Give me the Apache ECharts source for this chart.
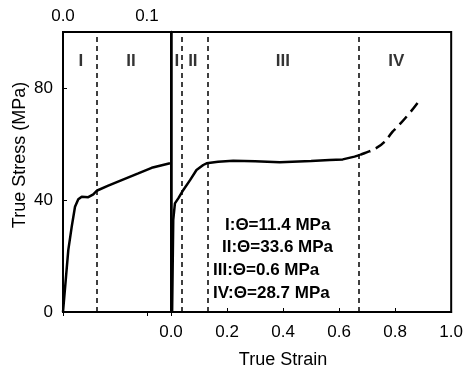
<!DOCTYPE html>
<html>
<head>
<meta charset="utf-8">
<script src="https://cdn.jsdelivr.net/npm/echarts@6/dist/echarts.min.js"></script>
<style>
  html, body { margin: 0; padding: 0; background: #fff; }
  #chart { width: 466px; height: 374px; }
</style>
</head>
<body>
<div id="chart"></div>
<script>
// left panel: strain on top axis (0 - ~0.13)
const leftCurve = [
  [0, 0], [0.0036, 12.6], [0.0063, 22.1], [0.0104, 30.5], [0.0143, 37.6],
  [0.0182, 40.3], [0.0223, 41.2], [0.0301, 41.0], [0.0361, 42.0], [0.0401, 43.3],
  [0.0539, 45.1], [0.0699, 47.1], [0.0896, 49.5], [0.1056, 51.5], [0.1274, 53.1]
];
// right panel: strain on bottom axis (0 - 1.0)
const rightCurve = [
  [0.004, 0], [0.008, 32.9], [0.014, 38.8], [0.026, 40.6], [0.044, 43.6],
  [0.068, 47.1], [0.091, 50.7], [0.115, 52.5], [0.127, 53.1], [0.168, 53.7],
  [0.222, 54.0], [0.30, 53.8], [0.388, 53.5], [0.50, 53.9], [0.566, 54.3],
  [0.613, 54.5], [0.655, 55.5], [0.675, 56.1]
];
const rightDashed = [
  [0.675, 56.1], [0.690, 56.7], [0.732, 58.5], [0.762, 60.8], [0.791, 64.4],
  [0.803, 65.6], [0.851, 71.0], [0.892, 76.3]
];
const leftBounds = [0.040];
const rightBounds = [0.039, 0.125, 0.673];
const leftRegions = [[0.0214, 89.6, 'I'], [0.081, 89.6, 'II']];
const rightRegions = [[0.021, 89.6, 'I'], [0.078, 89.6, 'II'], [0.399, 89.6, 'III'], [0.804, 89.6, 'IV']];
const slopeNotes = ['I:\u0398=11.4 MPa', 'II:\u0398=33.6 MPa', 'III:\u0398=0.6 MPa', 'IV:\u0398=28.7 MPa'];
const slopeNoteX = [225, 222, 213, 213];

const font = "'Liberation Sans', Arial, sans-serif";
const black = '#000';

const chart = echarts.init(document.getElementById('chart'), null, { renderer: 'canvas' });

const boundLine = (vals) => ({
  silent: true,
  symbol: 'none',
  label: { show: false },
  lineStyle: { color: black, type: [5, 4], width: 1.5 },
  data: vals.map(v => ({ xAxis: v }))
});

const regionSeries = (xi, yi, arr) => ({
  type: 'scatter',
  xAxisIndex: xi,
  yAxisIndex: yi,
  symbolSize: 0,
  silent: true,
  data: arr.map(d => ({ value: [d[0], d[1]], name: d[2] })),
  label: {
    show: true, position: 'inside', formatter: p => p.name,
    color: black, fontFamily: font, fontWeight: 'bold', fontSize: 17
  }
});

chart.setOption({
  backgroundColor: '#fff',
  animation: false,
  grid: [
    { left: 63, top: 32, width: 108, height: 280, show: true, borderColor: black, borderWidth: 2, backgroundColor: 'transparent' },
    { left: 171, top: 32, width: 281, height: 280, show: true, borderColor: black, borderWidth: 2, backgroundColor: 'transparent' }
  ],
  xAxis: [
    {
      gridIndex: 0, type: 'value', position: 'top', min: 0, max: 0.1286, interval: 0.1,
      axisLine: { show: true, lineStyle: { color: black, width: 2 } },
      axisTick: { show: true, inside: true, length: 4, lineStyle: { color: black } },
      axisLabel: {
        color: black, fontFamily: font, fontSize: 17, margin: 7,
        formatter: v => (v === 0 || Math.abs(v - 0.1) < 1e-9) ? v.toFixed(1) : ''
      },
      splitLine: { show: false }
    },
    {
      gridIndex: 1, type: 'value', position: 'bottom', min: 0, max: 1, interval: 0.2,
      axisLine: { show: true, lineStyle: { color: black, width: 2 } },
      axisTick: { show: true, inside: true, length: 4, lineStyle: { color: black } },
      axisLabel: { color: black, fontFamily: font, fontSize: 17, margin: 12, formatter: v => v.toFixed(1) },
      splitLine: { show: false }
    }
  ],
  yAxis: [
    {
      gridIndex: 0, type: 'value', min: 0, max: 100, interval: 40,
      axisLine: { show: true, lineStyle: { color: black, width: 2 } },
      axisTick: { show: true, inside: true, length: 4, lineStyle: { color: black } },
      axisLabel: { color: black, fontFamily: font, fontSize: 17, margin: 10, formatter: v => v > 80 ? '' : String(v) },
      splitLine: { show: false }
    },
    {
      gridIndex: 1, type: 'value', min: 0, max: 100, interval: 40,
      axisLine: { show: true, lineStyle: { color: black, width: 2.5 } },
      axisTick: { show: false },
      axisLabel: { show: false },
      splitLine: { show: false }
    }
  ],
  series: [
    {
      type: 'line', xAxisIndex: 0, yAxisIndex: 0, data: leftCurve, showSymbol: false,
      lineStyle: { color: black, width: 2.5 }, markLine: boundLine(leftBounds)
    },
    {
      type: 'line', xAxisIndex: 1, yAxisIndex: 1, data: rightCurve, showSymbol: false,
      lineStyle: { color: black, width: 2.5 }, markLine: boundLine(rightBounds)
    },
    {
      type: 'line', xAxisIndex: 1, yAxisIndex: 1, data: rightDashed, showSymbol: false, smooth: true,
      lineStyle: { color: black, width: 2.5, type: [11, 6] }
    },
    regionSeries(0, 0, leftRegions),
    regionSeries(1, 1, rightRegions)
  ],
  graphic: [
    ...slopeNotes.map((t, i) => ({
      type: 'text', x: slopeNoteX[i], y: 225 + i * 22.7,
      style: { text: t, fill: black, font: 'bold 17px ' + font, verticalAlign: 'middle' }
    })),
    {
      type: 'text', x: 283, y: 360,
      style: { text: 'True Strain', fill: black, font: '18px ' + font, align: 'center', verticalAlign: 'middle' }
    },
    {
      type: 'text', x: 20, y: 155, rotation: Math.PI / 2,
      style: { text: 'True Stress (MPa)', fill: black, font: '18px ' + font, align: 'center', verticalAlign: 'middle' }
    }
  ]
});
</script>
</body>
</html>
